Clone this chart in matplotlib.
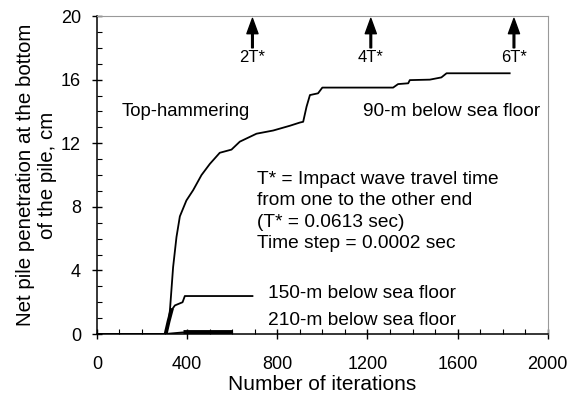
import numpy as np
import matplotlib.pyplot as plt
from matplotlib.ticker import MultipleLocator

plt.rcParams['font.family'] = ['Liberation Sans', 'DejaVu Sans']

# 90-m below sea floor
x90 = [0, 305, 315, 324, 338, 353, 368, 397, 427, 464, 501, 545, 597, 634,
       708, 782, 856, 900, 915, 930, 945, 981, 1000, 1314, 1336, 1381, 1388,
       1477, 1528, 1551, 1831]
y90 = [0, 0, 0.5, 1.5, 4.2, 6.1, 7.4, 8.4, 9.05, 10.0, 10.7, 11.4, 11.6, 12.1,
       12.6, 12.8, 13.1, 13.3, 13.35, 14.3, 15.03, 15.14, 15.5, 15.5, 15.72,
       15.77, 15.97, 16.0, 16.14, 16.4, 16.4]
# 150-m below sea floor
x150 = [0, 305, 318, 331, 346, 368, 380, 390, 690]
y150 = [0, 0, 0.8, 1.5, 1.8, 1.93, 2.0, 2.39, 2.39]
# 210-m below sea floor
x210 = [0, 300, 380, 600]
y210 = [0, 0, 0.1, 0.1]

arrow_x = [690, 1215, 1850]
arrow_lab = ['2T*', '4T*', '6T*']

fig = plt.figure(figsize=(5.7, 4.01), dpi=100)
ax = fig.add_axes([0.170, 0.167, 0.791, 0.793])

ax.plot(x90, y90, c='k', lw=1.3)
ax.plot(x150, y150, c='k', lw=1.3)
ax.plot(x210, y210, c='k', lw=1.3)
ax.plot(x210[2:], y210[2:], c='k', lw=3.5, solid_capstyle='butt')
# thick overlap at the start of the rise
ax.plot(x150[1:4], y150[1:4], c='k', lw=2.8)

for xa, lab in zip(arrow_x, arrow_lab):
    ax.annotate('', xy=(xa, 19.85), xytext=(xa, 18.0),
                arrowprops=dict(facecolor='k', edgecolor='k', width=1.2,
                                headwidth=8, headlength=11))
    ax.text(xa, 17.4, lab, ha='center', va='center', fontsize=12)

ax.text(110, 14.0, 'Top-hammering', fontsize=13.3, va='center')
ax.text(1180, 14.0, '90-m below sea floor', fontsize=13.8, va='center')
ax.text(710, 7.7, 'T* = Impact wave travel time\nfrom one to the other end\n'
        '(T* = 0.0613 sec)\nTime step = 0.0002 sec',
        fontsize=13.8, va='center', linespacing=1.35)
ax.text(758, 2.56, '150-m below sea floor', fontsize=13.8, va='center')
ax.text(758, 0.88, '210-m below sea floor', fontsize=13.8, va='center')

ax.set_xlim(0, 2000)
ax.set_ylim(0, 20)
ax.xaxis.set_major_locator(MultipleLocator(400))
ax.xaxis.set_minor_locator(MultipleLocator(100))
ax.yaxis.set_major_locator(MultipleLocator(4))
ax.yaxis.set_minor_locator(MultipleLocator(1))
ax.tick_params(which='major', direction='inout', length=7, width=1,
               labelsize=13)
ax.tick_params(axis='x', which='major', pad=12)
ax.tick_params(axis='y', which='major', pad=8)
ax.tick_params(which='minor', direction='in', length=3.5, width=0.8)
ax.tick_params(top=False, right=False)

for s in ['top', 'right']:
    ax.spines[s].set_color('#999999')
    ax.spines[s].set_linestyle((0, (2, 1)))
    ax.spines[s].set_linewidth(0.8)
for s in ['left', 'bottom']:
    ax.spines[s].set_linewidth(1.1)

ax.set_xlabel('Number of iterations', fontsize=15, labelpad=2)
ax.set_ylabel('Net pile penetration at the bottom\nof the pile, cm',
              fontsize=14.8, labelpad=3)

fig.savefig('out.png', dpi=100)
